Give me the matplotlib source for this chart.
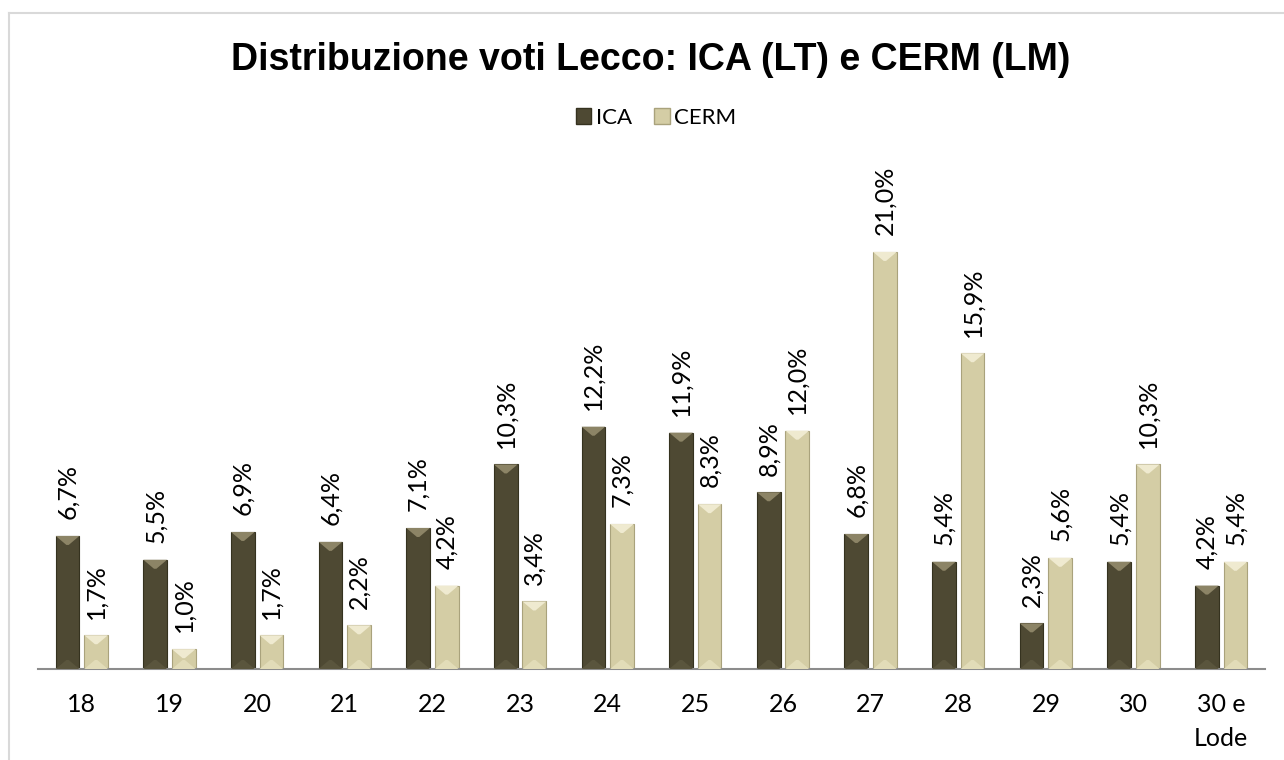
import matplotlib
matplotlib.use("Agg")
import matplotlib.pyplot as plt
from matplotlib.patches import Patch, Polygon
from matplotlib.lines import Line2D
import numpy as np

# data (percent of grades)
categories = ["18", "19", "20", "21", "22", "23", "24", "25", "26", "27", "28", "29", "30", "30 e\nLode"]
ica = [6.7, 5.5, 6.9, 6.4, 7.1, 10.3, 12.2, 11.9, 8.9, 6.8, 5.4, 2.3, 5.4, 4.2]
cerm = [1.7, 1.0, 1.7, 2.2, 4.2, 3.4, 7.3, 8.3, 12.0, 21.0, 15.9, 5.6, 10.3, 5.4]
series_names = ["ICA", "CERM"]

W, H = 1284, 760
# body, top facet, bottom facet, edge
styles = {
    "ICA": ("#4e4933", "#8c8466", "#5a553d", "#35321f"),
    "CERM": ("#d4cda5", "#efead0", "#e2dcb8", "#a9a27c"),
}
LABEL_FONT = ["Lato", "DejaVu Sans"]

fig = plt.figure(figsize=(W / 100, H / 100), dpi=100)
ax = fig.add_axes([38 / W, 91 / H, 1227 / W, 496.5 / H])

x = np.arange(len(categories))
w = 0.27
off = 0.163
ax.set_xlim(-0.5, len(categories) - 0.5)
ax.set_ylim(0, 25)

px_per_unit = ax.transData.transform((0, 1))[1] - ax.transData.transform((0, 0))[1]
facet_h = 9 / px_per_unit

for name, vals, dx in [("ICA", ica, -off), ("CERM", cerm, off)]:
    body, top_c, bot_c, edge = styles[name]
    bars = ax.bar(x + dx, vals, w, color=body, edgecolor=edge, linewidth=0.8, zorder=2)
    for b, v in zip(bars, vals):
        x0, x1 = b.get_x(), b.get_x() + b.get_width()
        d = b.get_width() * 0.45
        h = min(facet_h, v / 2)
        ax.add_patch(Polygon([(x0, v), (x1, v), (x1 - d, v - h), (x0 + d, v - h)],
                             closed=True, color=top_c, lw=0, zorder=3))
        ax.add_patch(Polygon([(x0, 0), (x1, 0), (x1 - d, h), (x0 + d, h)],
                             closed=True, color=bot_c, lw=0, zorder=3))
        ax.annotate(f"{v:.1f}%".replace(".", ","), (b.get_x() + b.get_width() / 2, v),
                    xytext=(0, 12), textcoords="offset points", rotation=90,
                    ha="center", va="bottom", fontsize=18, family=LABEL_FONT, color="#000000")

for s in ["top", "right", "left"]:
    ax.spines[s].set_visible(False)
ax.spines["bottom"].set_color("#8c8c8c")
ax.spines["bottom"].set_linewidth(1.5)
ax.set_yticks([])
ax.set_xticks(x)
ax.set_xticklabels(categories, fontsize=18, family=LABEL_FONT, linespacing=1.6, va="top")
ax.tick_params(axis="x", length=0, pad=17)

fig.text(651 / W, 1 - 60 / H, "Distribuzione voti Lecco: ICA (LT) e CERM (LM)",
         ha="center", va="center", fontsize=27, fontweight="bold", family="Liberation Sans")

handles = [Patch(facecolor=styles[n][0], edgecolor=styles[n][3]) for n in series_names]
fig.legend(handles, series_names, loc="center", bbox_to_anchor=(656 / W, 1 - 118 / H),
           ncol=2, frameon=False, handlelength=0.7, handleheight=0.7, handletextpad=0.2,
           columnspacing=1.0, prop={"family": LABEL_FONT, "size": 16})

# outer chart frame (only top/left edges fall inside the image)
fig.add_artist(Line2D([9 / W, 9 / W], [0, 1 - 13 / H], transform=fig.transFigure, color="#d9d9d9", lw=1.5))
fig.add_artist(Line2D([9 / W, 1], [1 - 13 / H, 1 - 13 / H], transform=fig.transFigure, color="#d9d9d9", lw=1.5))

fig.savefig("out.png", dpi=100)
